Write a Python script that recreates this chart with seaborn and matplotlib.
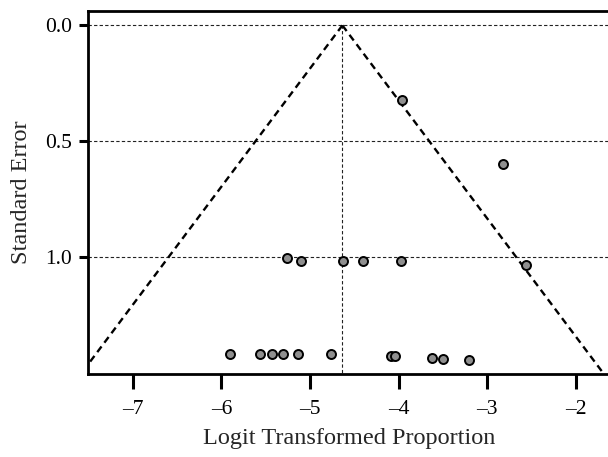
import matplotlib
matplotlib.use("Agg")
import matplotlib.pyplot as plt
import numpy as np
import pandas as pd
import seaborn as sns

# Study-level logit proportions and their standard errors
logit_prop = [-3.96, -2.82, -5.26, -5.10, -4.63, -4.40, -3.97, -2.56,
              -5.90, -5.56, -5.43, -5.30, -5.13, -4.76, -4.09, -4.04,
              -3.62, -3.50, -3.21]
std_err = [0.320, 0.597, 1.004, 1.016, 1.016, 1.016, 1.015, 1.036,
           1.418, 1.418, 1.418, 1.418, 1.418, 1.418, 1.429, 1.429,
           1.435, 1.439, 1.445]

pooled_estimate = -4.635
z_crit = 1.96
x_ticks = [-7, -6, -5, -4, -3, -2]
y_ticks = [0.0, 0.5, 1.0]

df = pd.DataFrame({"yi": logit_prop, "sei": std_err})

sns.set_theme(style="white")
plt.rcParams["font.family"] = ["Liberation Serif", "DejaVu Serif"]

fig = plt.figure(figsize=(6.08, 4.57), dpi=100)
ax = fig.add_axes([0.1442, 0.1816, 0.859, 0.7943])

y_bottom, y_top = 1.505, -0.062
x_left, x_right = -7.508, -1.617
ax.set_xlim(x_left, x_right)
ax.set_ylim(y_bottom, y_top)

# reference lines at the y ticks
for yt in y_ticks:
    ax.axhline(yt, color="#222222", lw=0.8, ls=(0, (3, 2)), zorder=1)

# vertical line at the pooled estimate
ax.plot([pooled_estimate, pooled_estimate], [0, y_bottom],
        color="#222222", lw=0.8, ls=(0, (3, 2)), zorder=1)

# pseudo-confidence funnel
se_line = np.array([0.0, y_bottom])
for sign in (-1, 1):
    ax.plot(pooled_estimate + sign * z_crit * se_line, se_line,
            color="black", lw=1.7, ls=(0, (3, 2)), zorder=2)

sns.scatterplot(data=df, x="yi", y="sei", ax=ax, s=42,
                color="#8f8f8f", edgecolor="black", linewidth=1.4,
                zorder=3, legend=False)

ax.set_xticks(x_ticks)
ax.set_yticks(y_ticks)
ax.set_xticklabels([f"\u2013{abs(t)}" for t in x_ticks])
ax.set_yticklabels([f"{t:.1f}" for t in y_ticks])
ax.tick_params(axis="both", direction="out", width=2.2,
               labelsize=15.5, color="black", labelcolor="black")
ax.tick_params(axis="x", length=11, pad=8)
ax.tick_params(axis="y", length=6.5, pad=5)
ax.xaxis.set_ticks_position("bottom")
ax.yaxis.set_ticks_position("left")

for sp in ax.spines.values():
    sp.set_linewidth(2)
    sp.set_color("black")

ax.set_xlabel("Logit Transformed Proportion", fontsize=17.5, labelpad=6)
ax.set_ylabel("Standard Error", fontsize=17.5, labelpad=9)

fig.savefig("out.png", dpi=100)
